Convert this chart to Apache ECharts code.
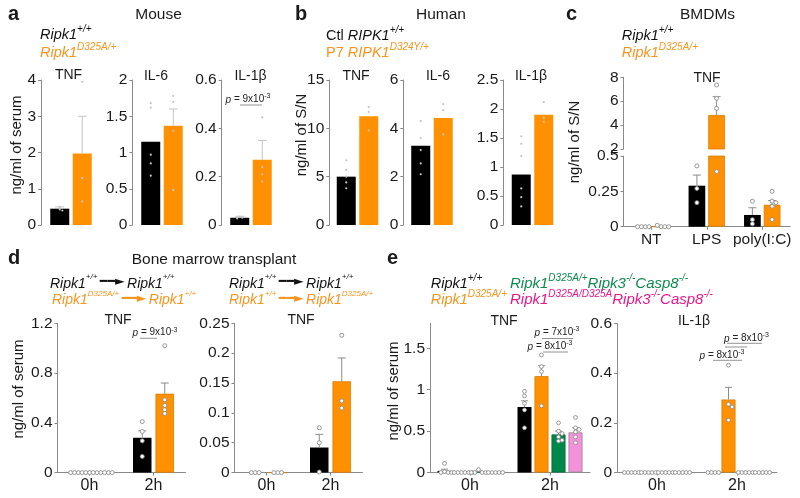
<!DOCTYPE html>
<html><head><meta charset="utf-8">
<script src="https://cdn.jsdelivr.net/npm/echarts@6/dist/echarts.min.js"></script>
<style>html,body{margin:0;padding:0;background:#fff}#c{width:800px;height:498px}</style>
</head><body><div id="c"></div>
<script>
// ================= DATA =================
// Panel a - Mouse serum: [Ripk1+/+, Ripk1 D325A/+]
const aTnfMean = [0.45, 1.97];
const aTnfErr = [0.50, 3.00];
const aTnfPtsWT = [0.50, 0.43, 0.40];
const aTnfPtsMut = [3.95, 1.30, 0.65];
const aIl6Mean = [1.15, 1.37];
const aIl6Err = [null, 1.60];
const aIl6PtsWT = [1.68, 1.62, 0.97, 0.85, 0.68];
const aIl6PtsMut = [1.78, 1.70, 1.30, 0.48];
const aIl1bMean = [0.030, 0.270];
const aIl1bErr = [0.036, 0.350];
const aIl1bPtsWT = [0.035, 0.030, 0.027];
const aIl1bPtsMut = [0.445, 0.240, 0.210, 0.180];
// Panel b - Human S/N: [Ctl RIPK1+/+, P7 RIPK1 D324Y/+]
const bTnfMean = [5.0, 11.25];
const bTnfPtsCtl = [6.7, 5.7, 5.0, 4.4, 3.8];
const bTnfPtsP7 = [12.2, 11.7, 9.8];
const bIl6Mean = [3.28, 4.43];
const bIl6PtsCtl = [4.3, 3.6, 3.1, 2.55, 2.1];
const bIl6PtsP7 = [5.0, 4.75, 3.75];
const bIl1bMean = [0.87, 1.90];
const bIl1bPtsCtl = [1.53, 1.40, 1.19, 0.63, 0.48, 0.32];
const bIl1bPtsP7 = [2.12, 1.85, 1.78];
// Panel c - BMDMs TNF
const cCats = ['NT', 'LPS', 'poly(I:C)'];
const cMeanWT = [0, 0.29, 0.083];
const cMeanMut = [0, 4.85, 0.155];
const cErrWT = [null, 0.365, 0.134];
const cErrMut = [null, 6.38, 0.185];
const cPtsWT = [[0, 0, 0, 0], [0.43, 0.27, 0.17], [0.18, 0.05, 0.02]];
const cPtsMut = [[0, 0, 0.01, 0], [7.36, 6.24, 5.40, 0.39], [0.25, 0.18, 0.17, 0.145, 0.05]];
const cUpperTicks = [2, 4, 6, 8];
const cLowerTicks = [0, 0.25, 0.5];
// Panel d - Bone marrow transplant TNF
const dCats = ['0h', '2h'];
const d1MeanWT = [0, 0.28];
const d1MeanMut = [0, 0.634];
const d1ErrWT = [null, 0.335];
const d1ErrMut = [null, 0.72];
const d1PtsWT = [[0, 0, 0, 0, 0, 0], [0.41, 0.33, 0.255, 0.13]];
const d1PtsMut = [[0, 0, 0, 0, 0, 0], [1.02, 0.585, 0.54, 0.505, 0.475]];
const d2MeanWT = [0, 0.042];
const d2MeanMut = [0, 0.153];
const d2ErrWT = [null, 0.064];
const d2ErrMut = [null, 0.192];
const d2PtsWT = [[0, 0, 0], [0.075, 0.05, 0.001]];
const d2PtsMut = [[0, 0, 0], [0.23, 0.12, 0.108]];
// Panel e - serum TNF / IL-1b
const eCats = ['0h', '2h'];
const e1Ticks = [0, 0.5, 1, 1.5];
const e1MeanWT = [0.02, 0.79];
const e1MeanMut = [0, 1.165];
const e1MeanR3C8 = [0.008, 0.46];
const e1MeanDD = [0, 0.485];
const e1ErrWT = [0.04, 0.866];
const e1ErrMut = [null, 1.29];
const e1ErrR3C8 = [0.015, 0.50];
const e1ErrDD = [null, 0.54];
const e1PtsWT = [[0.11, 0.01, 0, 0, 0], [0.98, 0.925, 0.835, 0.755, 0.54]];
const e1PtsMut = [[0, 0, 0, 0, 0, 0], [1.42, 1.28, 1.22, 0.805]];
const e1PtsR3C8 = [[0.035, 0, 0, 0, 0], [0.60, 0.50, 0.47, 0.43, 0.38, 0.39]];
const e1PtsDD = [[0, 0, 0, 0, 0], [0.665, 0.54, 0.52, 0.49, 0.43, 0.36]];
const e2MeanWT = [0, 0];
const e2MeanMut = [0, 0.294];
const e2MeanR3C8 = [0, 0];
const e2MeanDD = [0, 0];
const e2ErrMut = [null, 0.343];
const e2PtsWT = [[0, 0, 0, 0, 0], [0, 0, 0, 0]];
const e2PtsMut = [[0, 0, 0, 0, 0], [0.432, 0.275, 0.264, 0.211]];
const e2PtsR3C8 = [[0, 0, 0, 0, 0], [0, 0, 0, 0, 0]];
const e2PtsDD = [[0, 0, 0, 0, 0], [0, 0, 0, 0, 0]];

// ================= STYLE / BUILD =================
const FONT = '"Liberation Sans", Arial, Helvetica, sans-serif';
const AX = '#8a8a8a', TX = '#1a1a1a';
const BLACK = '#000000', ORANGE = '#FF9100', GREEN = '#00874A', PINK = '#F590DA';
const ORANGE_T = '#F7941D', GREEN_T = '#0E8A4C', PINK_T = '#E6178A';
const grids = [], xAxis = [], yAxis = [], series = [];

function swarm(ys, step) {
  const placed = [], out = [];
  ys.forEach((y, i) => {
    for (let m = 0; m < 60; m++) {
      const c = m === 0 ? 0 : (m % 2 ? 1 : -1) * Math.ceil(m / 2) * step;
      if (placed.every(p => Math.hypot(p[0] - c, p[1] - y) >= step * 0.95)) { placed.push([c, y]); out[i] = c; break; }
    }
  });
  return out;
}

function panel(p) {
  const gi = grids.length, K = p.groups.length, pitch = p.bw + p.gap;
  grids.push({ left: p.left, top: p.top, width: p.width, height: p.height });
  xAxis.push({
    type: 'category', gridIndex: gi, data: p.cats, show: p.showX, boundaryGap: true,
    axisLine: { show: true, lineStyle: { color: AX, width: 1 } },
    axisTick: { show: true, alignWithLabel: true, length: 3, lineStyle: { color: AX } },
    axisLabel: { show: true, interval: 0, color: TX, fontFamily: FONT, fontSize: p.xFont || 16, margin: 5 }
  });
  const y = {
    type: 'value', gridIndex: gi, min: p.min, max: p.max, interval: p.interval,
    axisLine: { show: true, lineStyle: { color: AX, width: 1 } },
    axisTick: { show: true, length: 3, lineStyle: { color: AX } },
    splitLine: { show: false },
    axisLabel: { color: TX, fontFamily: FONT, fontSize: 15.5, margin: 5 }
  };
  if (p.ticks) {
    y.axisLabel.customValues = p.ticks;
    y.axisTick.customValues = p.ticks;
    y.axisLabel.formatter = v => p.ticks.some(t => Math.abs(t - v) < 1e-9) ? String(v) : '';
  }
  yAxis.push(y);
  p.groups.forEach(g => series.push({
    type: 'bar', xAxisIndex: gi, yAxisIndex: gi, data: g.mean, barWidth: p.bw,
    barGap: (p.gap / p.bw * 100) + '%', clip: true, silent: true, z: 2,
    itemStyle: { color: g.color, borderColor: g.border || g.color, borderWidth: g.border ? 0.8 : 0 }
  }));
  const errData = [];
  p.groups.forEach((g, k) => (g.err || []).forEach((t, c) => {
    if (t != null && g.mean[c] >= p.min && t <= p.max) errData.push([c, g.mean[c], k, t]);
  }));
  if (errData.length) series.push({
    type: 'custom', xAxisIndex: gi, yAxisIndex: gi, z: 4, silent: true, data: errData, encode: { x: 0, y: 1 },
    renderItem: (params, api) => {
      const c = api.value(0), m = api.value(1), k = api.value(2), t = api.value(3);
      const a = api.coord([c, m]), b = api.coord([c, t]);
      const x = a[0] + (k - (K - 1) / 2) * pitch;
      return { type: 'group', children: [
        { type: 'line', shape: { x1: x, y1: a[1], x2: x, y2: b[1] }, style: { stroke: p.errColor, lineWidth: 1 } },
        { type: 'line', shape: { x1: x - p.cap / 2, y1: b[1], x2: x + p.cap / 2, y2: b[1] }, style: { stroke: p.errColor, lineWidth: 1 } }
      ] };
    }
  });
  const ptData = [];
  p.groups.forEach((g, k) => g.pts.forEach((arr, c) => arr.forEach((v, j) => {
    if (v >= p.min && v <= p.max) ptData.push([c, v, k, j]);
  })));
  series.push({
    type: 'custom', xAxisIndex: gi, yAxisIndex: gi, z: 6, silent: true, data: ptData, encode: { x: 0, y: 1 },
    renderItem: (params, api) => {
      const c = api.value(0), v = api.value(1), k = api.value(2), j = api.value(3);
      const arr = p.groups[k].pts[c];
      const ys = arr.map(val => api.coord([c, val])[1]);
      const dx = swarm(ys, p.step)[j];
      const x = api.coord([c, v])[0] + (k - (K - 1) / 2) * pitch + dx;
      return { type: 'circle', shape: { cx: x, cy: ys[j], r: p.r }, style: p.ptStyle };
    }
  });
}

const lightPt = { fill: '#c4c4c4', stroke: null };
const ringPt = { fill: '#ffffff', stroke: '#8c8c8c', lineWidth: 0.9 };
const two = (m, e, pw, pm) => [
  { mean: [m[0]], err: e ? [e[0]] : null, pts: [pw], color: BLACK },
  { mean: [m[1]], err: e ? [e[1]] : null, pts: [pm], color: ORANGE }
];
const abBase = { cats: [''], showX: false, top: 80, height: 145, bw: 19, gap: 3.5, errColor: '#c4c4c4', cap: 9, step: 2.6, r: 1.1, ptStyle: lightPt };

// a
panel(Object.assign({}, abBase, { left: 41, width: 60, min: 0, max: 4, interval: 1, groups: two(aTnfMean, aTnfErr, aTnfPtsWT, aTnfPtsMut) }));
panel(Object.assign({}, abBase, { left: 132.3, width: 59.4, min: 0, max: 2, interval: 0.5, groups: two(aIl6Mean, aIl6Err, aIl6PtsWT, aIl6PtsMut) }));
panel(Object.assign({}, abBase, { left: 221.7, width: 58.6, min: 0, max: 0.6, interval: 0.2, groups: two(aIl1bMean, aIl1bErr, aIl1bPtsWT, aIl1bPtsMut) }));
// b
panel(Object.assign({}, abBase, { left: 329.3, width: 56.4, min: 0, max: 15, interval: 5, groups: two(bTnfMean, null, bTnfPtsCtl, bTnfPtsP7) }));
panel(Object.assign({}, abBase, { left: 403.3, width: 57.4, min: 0, max: 6, interval: 2, groups: two(bIl6Mean, null, bIl6PtsCtl, bIl6PtsP7) }));
panel(Object.assign({}, abBase, { left: 503.3, width: 58.4, min: 0, max: 2.5, interval: 0.5, groups: two(bIl1bMean, null, bIl1bPtsCtl, bIl1bPtsP7) }));
// c (broken axis: upper + lower)
const cGroups = [
  { mean: cMeanWT, err: cErrWT, pts: cPtsWT, color: BLACK },
  { mean: cMeanMut, err: cErrMut, pts: cPtsMut, color: ORANGE, border: '#D97C00' }
];
const cBase = { cats: cCats, left: 623.5, width: 166.5, bw: 16.7, gap: 3, errColor: '#8c8c8c', cap: 8, step: 3.8, r: 2, ptStyle: ringPt, groups: cGroups, xFont: 15.5 };
panel(Object.assign({}, cBase, { showX: false, top: 77.3, height: 71.7, min: 2, max: 8, interval: 2, ticks: cUpperTicks }));
panel(Object.assign({}, cBase, { showX: true, top: 156, height: 70.7, min: 0, max: 0.5, interval: 0.25, ticks: cLowerTicks }));
// d
const dBase = { cats: dCats, showX: true, top: 323.3, height: 149.3, width: 128, bw: 18.5, gap: 4, errColor: '#8c8c8c', cap: 8, step: 3.8, r: 2, ptStyle: ringPt };
panel(Object.assign({}, dBase, { left: 57.5, min: 0, max: 1.2, interval: 0.4, groups: [
  { mean: d1MeanWT, err: d1ErrWT, pts: d1PtsWT, color: BLACK },
  { mean: d1MeanMut, err: d1ErrMut, pts: d1PtsMut, color: ORANGE, border: '#D97C00' }] }));
panel(Object.assign({}, dBase, { left: 234.5, min: 0, max: 0.25, interval: 0.05, groups: [
  { mean: d2MeanWT, err: d2ErrWT, pts: d2PtsWT, color: BLACK },
  { mean: d2MeanMut, err: d2ErrMut, pts: d2PtsMut, color: ORANGE, border: '#D97C00' }] }));
// e
const eBase = { cats: eCats, showX: true, top: 323.5, height: 149, width: 160, bw: 14, gap: 3, errColor: '#8c8c8c', cap: 7, step: 3.6, r: 1.9, ptStyle: ringPt };
panel(Object.assign({}, eBase, { left: 430, min: 0, max: 1.8, interval: 0.5, ticks: e1Ticks, groups: [
  { mean: e1MeanWT, err: e1ErrWT, pts: e1PtsWT, color: BLACK },
  { mean: e1MeanMut, err: e1ErrMut, pts: e1PtsMut, color: ORANGE, border: '#D97C00' },
  { mean: e1MeanR3C8, err: e1ErrR3C8, pts: e1PtsR3C8, color: GREEN, border: '#006B3A' },
  { mean: e1MeanDD, err: e1ErrDD, pts: e1PtsDD, color: PINK, border: '#8c8c8c' }] }));
panel(Object.assign({}, eBase, { left: 617, min: 0, max: 0.6, interval: 0.2, groups: [
  { mean: e2MeanWT, err: null, pts: e2PtsWT, color: BLACK },
  { mean: e2MeanMut, err: e2ErrMut, pts: e2PtsMut, color: ORANGE, border: '#D97C00' },
  { mean: e2MeanR3C8, err: null, pts: e2PtsR3C8, color: GREEN, border: '#006B3A' },
  { mean: e2MeanDD, err: null, pts: e2PtsDD, color: PINK, border: '#8c8c8c' }] }));

// ================= TEXT / ANNOTATIONS =================
const G = [];
const txt = (x, y, text, o) => G.push({ type: 'text', x, y, silent: true, z: 100,
  style: Object.assign({ text, fill: TX, fontFamily: FONT, fontSize: 15, align: 'left', verticalAlign: 'middle' }, o || {}) });
const richSet = (color, size, supRatio) => ({
  n: { fill: color, fontFamily: FONT, fontSize: size, lineHeight: 18, verticalAlign: 'bottom' },
  i: { fill: color, fontFamily: FONT, fontSize: size, fontStyle: 'italic', lineHeight: 18, verticalAlign: 'bottom' },
  s: { fill: color, fontFamily: FONT, fontSize: Math.round(size * (supRatio || 0.68)), fontStyle: 'italic', lineHeight: 18, verticalAlign: 'top' },
  ar: { fill: color, fontFamily: '"DejaVu Sans"', fontSize: 12.5, lineHeight: 18, verticalAlign: 'middle' }
});
const leg = (x, y, text, color, size, supRatio) => G.push({ type: 'text', x, y, silent: true, z: 100,
  style: { text, rich: richSet(color, size || 14.5, supRatio), fill: color, fontFamily: FONT, fontSize: size || 14.5, align: 'left', verticalAlign: 'middle' } });
const line = (x1, y1, x2, y2) => G.push({ type: 'line', silent: true, z: 100, shape: { x1, y1, x2, y2 }, style: { stroke: '#777', lineWidth: 0.8 } });
const pval = (x, y, val) => G.push({ type: 'text', x, y, silent: true, z: 100, style: {
  text: '{p|p} = ' + val + 'x10{s|-3}', fill: '#222', fontFamily: FONT, fontSize: 10, align: 'center', verticalAlign: 'middle',
  rich: { p: { fontStyle: 'italic', fontSize: 10, fontFamily: FONT, fill: '#222', lineHeight: 12, verticalAlign: 'bottom' },
          s: { fontSize: 7, fontFamily: FONT, fill: '#222', lineHeight: 12, verticalAlign: 'top' } } } });
const vname = (x, y, text) => G.push({ type: 'text', x, y, rotation: Math.PI / 2, silent: true, z: 100,
  style: { text, fill: TX, fontFamily: FONT, fontSize: 15, align: 'center', verticalAlign: 'middle' } });
const bold = { fontWeight: 'bold', fontSize: 20 };
const ARROW = '{ar|\u2009\u2501\u2501\u25BA\u2009}';

// panel letters and titles
txt(8, 14, 'a', bold); txt(295, 14, 'b', bold); txt(566, 14, 'c', bold); txt(8, 258, 'd', bold); txt(387, 258, 'e', bold);
txt(158.5, 15, 'Mouse', { align: 'center', fontSize: 15.5 });
txt(441, 15, 'Human', { align: 'center', fontSize: 15.5 });
txt(707.5, 15, 'BMDMs', { align: 'center', fontSize: 15.5 });
txt(214, 260, 'Bone marrow transplant', { align: 'center', fontSize: 15.5 });
// legends
leg(40, 33, '{i|Ripk1}{s|+/+}', '#111');
leg(40, 51, '{i|Ripk1}{s|D325A/+}', ORANGE_T);
leg(326, 34, '{n|Ctl }{i|RIPK1}{s|+/+}', '#111');
leg(326, 51, '{n|P7 }{i|RIPK1}{s|D324Y/+}', ORANGE_T);
leg(621.7, 34, '{i|Ripk1}{s|+/+}', '#111');
leg(621.7, 51, '{i|Ripk1}{s|D325A/+}', ORANGE_T);
leg(50, 282, '{i|Ripk1}{s|+/+}' + ARROW + '{i|Ripk1}{s|+/+}', '#111', 14, 0.6);
leg(52, 298.5, '{i|Ripk1}{s|D325A/+}' + ARROW + '{i|Ripk1}{s|+/+}', ORANGE_T, 14, 0.6);
leg(229, 282, '{i|Ripk1}{s|+/+}' + ARROW + '{i|Ripk1}{s|+/+}', '#111', 14, 0.6);
leg(229, 298.5, '{i|Ripk1}{s|+/+}' + ARROW + '{i|Ripk1}{s|D325A/+}', ORANGE_T, 14, 0.6);
leg(430.7, 282, '{i|Ripk1}{s|+/+}', '#111');
leg(430.7, 298.5, '{i|Ripk1}{s|D325A/+}', ORANGE_T);
leg(510, 282, '{i|Ripk1}{s|D325A/+}{i|Ripk3}{s|-/-}{i|Casp8}{s|-/-}', GREEN_T, 15);
leg(510, 298.5, '{i|Ripk1}{s|D325A/D325A}{i|Ripk3}{s|-/-}{i|Casp8}{s|-/-}', PINK_T, 15);
// panel chart labels
const lab = { align: 'center', fontSize: 14 };
txt(68.5, 75, 'TNF', lab); txt(156, 76, 'IL-6', lab); txt(250.5, 76, 'IL-1\u03B2', lab);
txt(356, 76, 'TNF', lab); txt(438, 76, 'IL-6', lab); txt(531, 76, 'IL-1\u03B2', lab);
txt(707, 78, 'TNF', lab);
txt(118, 320, 'TNF', lab); txt(301, 320, 'TNF', lab);
txt(504, 321, 'TNF', lab); txt(694, 321, 'IL-1\u03B2', lab);
// y axis names
vname(17, 145, 'ng/ml of serum');
vname(302, 135, 'ng/ml of S/N');
vname(575, 142, 'ng/ml of S/N');
vname(19, 389, 'ng/ml of serum');
vname(394, 391, 'ng/ml of serum');
// p-values
pval(248, 99, '9'); line(240, 105, 262, 105);
pval(155, 332.7, '9'); line(140, 338.3, 157, 338.3);
pval(557, 332, '7'); line(542, 338.5, 573, 338.5);
pval(550, 346, '8'); line(543, 352, 568, 352);
pval(746.5, 338, '8'); line(727, 343.3, 762, 343.3); line(725, 347, 747, 347);
pval(722, 355, '8'); line(713, 360.3, 742, 360.3);

const chart = echarts.init(document.getElementById('c'), null, { renderer: 'canvas' });
chart.setOption({
  animation: false,
  backgroundColor: '#ffffff',
  textStyle: { fontFamily: FONT },
  grid: grids, xAxis, yAxis, series, graphic: G
});
</script></body></html>
